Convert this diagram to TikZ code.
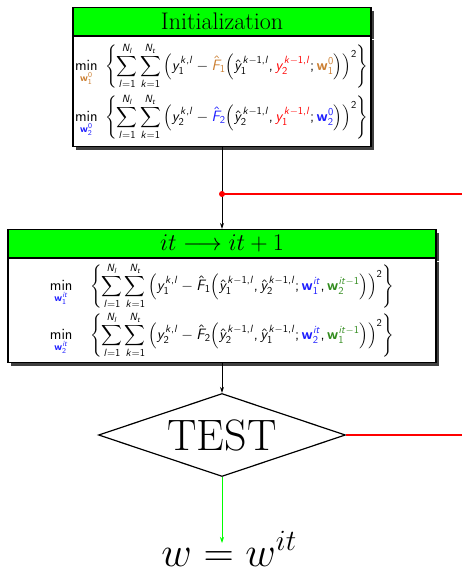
\RequirePackage{fix-cm}
\documentclass[tikz,border=0pt]{standalone}
\usepackage{amsmath}
\usepackage{xcolor}
\usetikzlibrary{positioning, shapes.geometric, arrows.meta, shadows}

% sans serif math, italic letters
\DeclareMathVersion{sfit}
\SetSymbolFont{operators}{sfit}{OT1}{cmss}{m}{n}
\SetSymbolFont{letters}{sfit}{OT1}{cmss}{m}{sl}
\SetMathAlphabet{\mathbf}{sfit}{OT1}{cmss}{bx}{n}
\newcommand{\sfmathon}{\mathversion{sfit}\mathcode`\,="602C }

\definecolor{wbrown}{RGB}{204,128,51}
\definecolor{wblue}{RGB}{30,30,255}
\definecolor{wgreen}{RGB}{50,140,30}

\begin{document}
\begin{tikzpicture}[
        x=1pt, y=-1pt,
        boxshadow/.style={drop shadow={shadow xshift=3pt, shadow yshift=-3pt, fill=black!75, opacity=1}},
        titlebox/.style={rectangle, draw, line width=1.2pt, fill=green, boxshadow, inner sep=0pt, minimum height=28pt, font=\fontsize{24}{28}\selectfont},
        formbox/.style={rectangle, draw, line width=1.2pt, fill=white, boxshadow, inner sep=2pt, font=\fontsize{15}{18}\selectfont\sfmathon},
        arrow/.style={-{Stealth[length=6pt, width=4pt]}, line width=0.8pt},
        redline/.style={draw=red, line width=1.5pt},
    ]
        \useasboundingbox (0,0) rectangle (462,576);

        % Initialization
        \node[titlebox, minimum width=298pt] (inittitle) at (222,21.5) {Initialization};
        \node[formbox, below=0pt of inittitle, minimum width=298pt, minimum height=110pt, text width=294pt, align=left] (initf) {%
            $\displaystyle \min_{\color{wbrown}\mathbf{w}_1^0}\ \left\{\sum_{l=1}^{N_l}\sum_{k=1}^{N_t}\left(y_1^{k,l}-{\color{wbrown}\hat{F}_1}\Big(\hat{y}_1^{k-1,l},{\color{red}y_2^{k-1,l}};{\color{wbrown}\mathbf{w}_1^0}\Big)\right)^2\right\}$\\[4pt]
            $\displaystyle \min_{\color{wblue}\mathbf{w}_2^0}\ \left\{\sum_{l=1}^{N_l}\sum_{k=1}^{N_t}\left(y_2^{k,l}-{\color{wblue}\hat{F}_2}\Big(\hat{y}_2^{k-1,l},{\color{red}y_1^{k-1,l}};{\color{wblue}\mathbf{w}_2^0}\Big)\right)^2\right\}$};

        % Iteration
        \node[titlebox, minimum width=428pt] (ittitle) at (222,243.5) {$it\longrightarrow it+1$};
        \node[formbox, below=0pt of ittitle, minimum width=428pt, minimum height=104pt, text width=424pt, align=center] (itf) {%
            $\displaystyle \min_{\color{wblue}\mathbf{w}_1^{it}}\quad \left\{\sum_{l=1}^{N_l}\sum_{k=1}^{N_t}\left(y_1^{k,l}-\hat{F}_1\Big(\hat{y}_1^{k-1,l},\hat{y}_2^{k-1,l};{\color{wblue}\mathbf{w}_1^{it}},{\color{wgreen}\mathbf{w}_2^{it-1}}\Big)\right)^2\right\}$\\[2pt]
            $\displaystyle \min_{\color{wblue}\mathbf{w}_2^{it}}\quad \left\{\sum_{l=1}^{N_l}\sum_{k=1}^{N_t}\left(y_2^{k,l}-\hat{F}_2\Big(\hat{y}_2^{k-1,l},\hat{y}_1^{k-1,l};{\color{wblue}\mathbf{w}_2^{it}},{\color{wgreen}\mathbf{w}_1^{it-1}}\Big)\right)^2\right\}$};

        % Test
        \node[diamond, draw, line width=1.2pt, aspect=3, minimum width=247pt, minimum height=83pt, inner sep=0pt, font=\fontsize{44}{44}\selectfont] (test) at (222,435) {TEST};

        % Result
        \node[font=\fontsize{42}{42}\selectfont, inner sep=0pt, anchor=base] (result) at (229,566) {$w=w^{it}$};
        \coordinate (resulttop) at (222,543);

        % Arrows
        \coordinate (split) at (222,194);
        \coordinate (redend1) at (462,194);
        \coordinate (redend2) at (462,435);
        \draw[arrow] (initf.south) -- (ittitle.north);
        \draw[arrow] (itf.south) -- (test.north);
        \draw[arrow, green] (test.south) -- (resulttop);
        \draw[redline] (split) -- (redend1);
        \draw[redline] (test.east) -- (redend2);
        \fill[red] (split) circle (3pt);
    \end{tikzpicture}
\end{document}
